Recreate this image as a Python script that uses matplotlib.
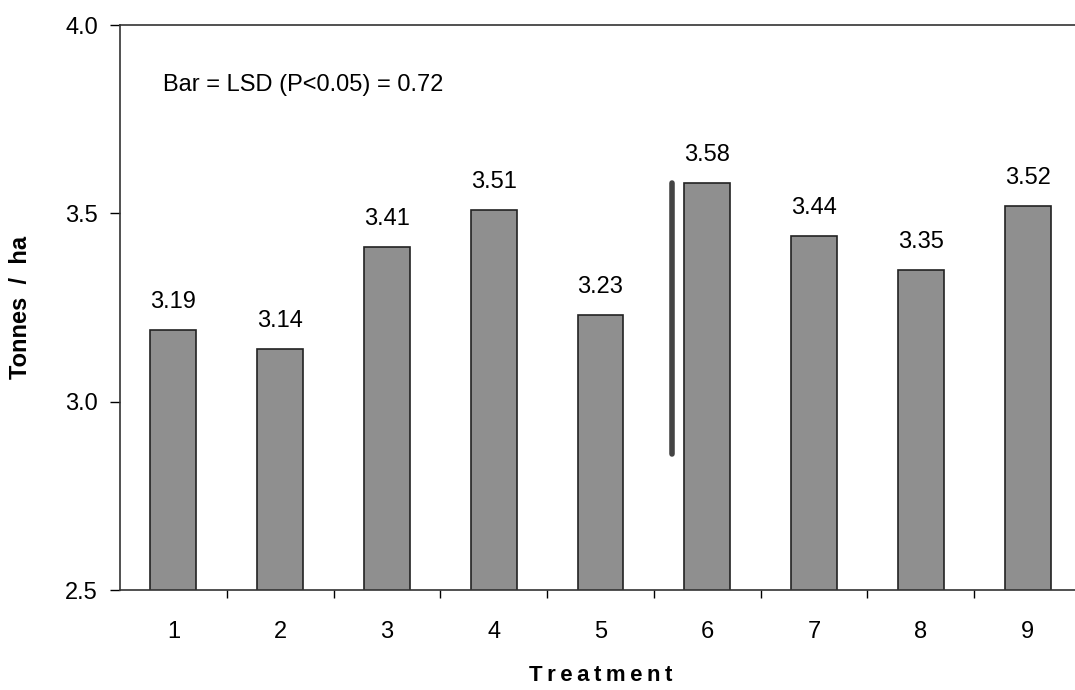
import matplotlib.pyplot as plt
import numpy as np

plt.rcParams['font.family'] = ['Liberation Sans', 'DejaVu Sans']

treatments = ["1", "2", "3", "4", "5", "6", "7", "8", "9"]
yields = [3.19, 3.14, 3.41, 3.51, 3.23, 3.58, 3.44, 3.35, 3.52]
lsd = 0.72
lsd_x = 5.67
lsd_top = 3.58

fig = plt.figure(figsize=(10.75, 6.9), dpi=100)
ax = fig.add_axes([120 / 1075, 1 - 590 / 690, (1081 - 120) / 1075, 565 / 690])

x = np.arange(1, len(yields) + 1)
ax.bar(x, yields, width=0.43, bottom=0, color="#8f8f8f", edgecolor="#222222", linewidth=1.2, zorder=2)
for xi, v in zip(x, yields):
    ax.text(xi, v + 0.045, f"{v:.2f}", ha="center", va="bottom", fontsize=17)

# LSD bar
ax.plot([lsd_x, lsd_x], [lsd_top - lsd, lsd_top], color="#444444", linewidth=4, solid_capstyle="round", zorder=3)
ax.text(0.9, 3.84, "Bar = LSD (P<0.05) = 0.72", ha="left", va="center", fontsize=17)

ax.set_ylim(2.5, 4.0)
ax.set_xlim(0.5, 9.5)
ax.set_yticks([2.5, 3.0, 3.5, 4.0])
ax.set_yticklabels(["2.5", "3.0", "3.5", "4.0"], fontsize=17)
ax.tick_params(axis="y", direction="out", length=7, width=1, pad=9)

ax.set_xticks(np.arange(1.5, 9.5, 1.0))
ax.set_xticklabels([])
ax.set_xticks(x, minor=True)
ax.set_xticklabels(treatments, minor=True, fontsize=17)
ax.tick_params(axis="x", which="major", direction="out", length=6, width=1)
ax.tick_params(axis="x", which="minor", length=0, pad=22)

ax.spines["right"].set_visible(False)
for s in ["top", "left", "bottom"]:
    ax.spines[s].set_linewidth(1.2)
    ax.spines[s].set_color("#333333")

ax.set_ylabel("Tonnes  /  ha", fontsize=17, fontweight="bold", labelpad=24)
ax.set_xlabel("\u2009".join("Treatment"), fontsize=16, fontweight="bold", labelpad=16)

fig.savefig("out.png", dpi=100)
